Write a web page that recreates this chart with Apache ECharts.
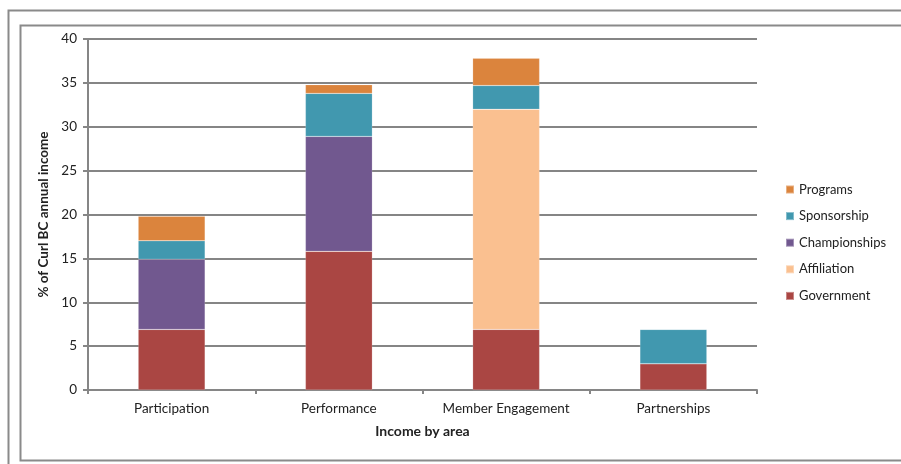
<!DOCTYPE html>
<html>
<head>
<meta charset="utf-8">
<script src="https://cdn.jsdelivr.net/npm/echarts@6/dist/echarts.min.js"></script>
<style>html,body{margin:0;padding:0;background:#fff;}#c{width:901px;height:464px;}</style>
</head>
<body>
<div id="c"></div>
<script>
var categories = ['Participation', 'Performance', 'Member Engagement', 'Partnerships'];
var government = [6.9, 15.8, 6.9, 3.0];
var affiliation = [0, 0, 25.1, 0];
var championships = [8.0, 13.1, 0, 0];
var sponsorship = [2.1, 4.9, 2.7, 3.9];
var programs = [2.8, 1.0, 3.1, 0];
var legendOrder = ['Programs', 'Sponsorship', 'Championships', 'Affiliation', 'Government'];
var yTicks = [0, 5, 10, 15, 20, 25, 30, 35, 40];

var FONT = 'Lato, "Open Sans", sans-serif';
var chart = echarts.init(document.getElementById('c'), null, {renderer: 'canvas'});

function bar(name, data, color) {
  return {
    name: name, type: 'bar', stack: 'total', data: data, barWidth: '40%',
    itemStyle: {color: color, borderColor: 'rgba(255,255,255,0.35)', borderWidth: 0.5},
    emphasis: {disabled: true}
  };
}

chart.setOption({
  animation: false,
  backgroundColor: '#ffffff',
  textStyle: {fontFamily: FONT},
  graphic: [
    {type: 'polyline', shape: {points: [[8.5, 470], [8.5, 10.5], [910, 10.5]]}, style: {stroke: '#8a8a8a', lineWidth: 2, fill: null}},
    {type: 'polyline', shape: {points: [[910, 460.5], [20.5, 460.5], [20.5, 25.5], [910, 25.5]]}, style: {stroke: '#8a8a8a', lineWidth: 2, fill: null}}
  ],
  grid: {left: 88, right: 144, top: 39, bottom: 74, containLabel: false},
  legend: {
    orient: 'vertical', left: 780, top: 177,
    data: legendOrder,
    icon: 'rect', itemWidth: 8, itemHeight: 8, itemGap: 11.6,
    textStyle: {fontFamily: FONT, fontSize: 13, color: '#222', lineHeight: 15}
  },
  xAxis: {
    type: 'category', data: categories,
    name: 'Income by area', nameLocation: 'middle', nameGap: 34,
    nameTextStyle: {fontFamily: FONT, fontSize: 14, fontWeight: 'bold', color: '#222'},
    axisLine: {lineStyle: {color: '#868686', width: 2}},
    axisTick: {show: true, length: 4, lineStyle: {color: '#868686', width: 2}},
    axisLabel: {fontFamily: FONT, fontSize: 13.5, color: '#222', margin: 12}
  },
  yAxis: {
    type: 'value', min: 0, max: 40, interval: 5,
    name: '% of Curl BC annual income', nameLocation: 'middle', nameGap: 32,
    nameTextStyle: {fontFamily: FONT, fontSize: 13.5, fontWeight: 'bold', color: '#222'},
    axisLine: {show: true, lineStyle: {color: '#868686', width: 2}},
    axisTick: {show: true, length: 5, lineStyle: {color: '#868686', width: 2}},
    axisLabel: {fontFamily: FONT, fontSize: 13.5, color: '#222', margin: 11,
      formatter: function (v) { return yTicks.indexOf(v) >= 0 ? String(v) : ''; }},
    splitLine: {lineStyle: {color: '#858585', width: 2}}
  },
  series: [
    bar('Government', government, '#AA4643'),
    bar('Affiliation', affiliation, '#FAC090'),
    bar('Championships', championships, '#71588F'),
    bar('Sponsorship', sponsorship, '#4198AF'),
    bar('Programs', programs, '#DB843D')
  ]
});
</script>
</body>
</html>
